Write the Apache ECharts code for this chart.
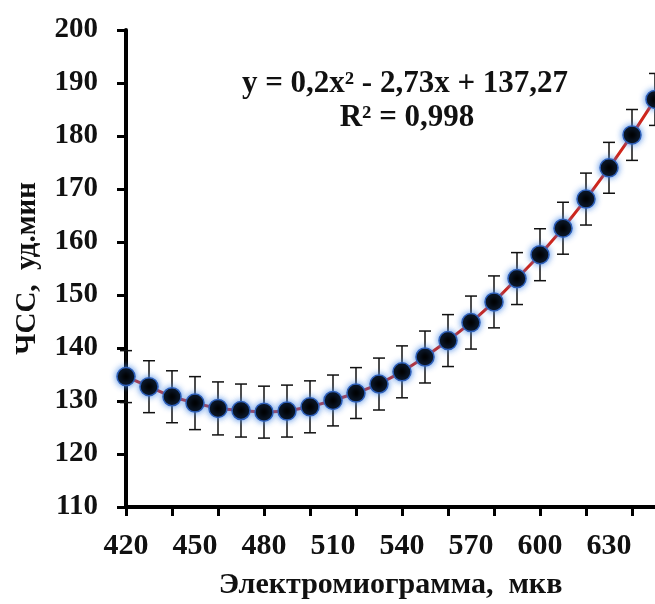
<!DOCTYPE html>
<html>
<head>
<meta charset="utf-8">
<script src="https://cdn.jsdelivr.net/npm/echarts@6/dist/echarts.min.js"></script>
<style>
html, body { margin: 0; padding: 0; background: #fff; }
#chartBox { width: 655px; height: 604px; }
</style>
</head>
<body>
<div id="chartBox"></div>
<script>
// ЭМГ (мкв) по оси X
var emg = [420, 430, 440, 450, 460, 470, 480, 490, 500, 510, 520, 530,
           540, 550, 560, 570, 580, 590, 600, 610, 620, 630, 640, 650];
// ЧСС, уд/мин
var hr = [134.6, 132.7, 130.8, 129.6, 128.6, 128.2, 127.9, 128.1, 128.9, 130.1, 131.5, 133.2,
          135.5, 138.3, 141.4, 144.8, 148.7, 153.1, 157.6, 162.6, 168.1, 174.0, 180.2, 186.9];
// погрешность (+/-)
var hrErr = [4.9, 4.9, 4.9, 5.0, 5.0, 5.0, 4.9, 4.9, 4.9, 4.8, 4.8, 4.9,
             4.9, 4.9, 4.9, 5.0, 4.9, 4.9, 4.9, 4.9, 4.9, 4.8, 4.8, 4.9];
var xTickValues = [420, 440, 460, 480, 500, 520, 540, 560, 580, 600, 620, 640];
var xLabelValues = [420, 450, 480, 510, 540, 570, 600, 630];

var eqText = 'y = 0,2x² - 2,73x + 137,27';
var r2Text = 'R² = 0,998';

var serif = '"Liberation Serif", "Times New Roman", serif';

var points = [];
var bars = [];
for (var i = 0; i < emg.length; i++) {
	points.push([emg[i], hr[i]]);
	bars.push([emg[i], hr[i] - hrErr[i], hr[i] + hrErr[i]]);
}

var chart = echarts.init(document.getElementById('chartBox'));
chart.setOption({
	backgroundColor: '#fff',
	animation: false,
	grid: {
		left: 126,
		right: 0,
		top: 30,
		bottom: 97,
		containLabel: false,
		outerBoundsMode: 'none'
	},
	xAxis: {
		type: 'value',
		min: 420,
		max: 650,
		interval: 10,
		name: 'Электромиограмма,  мкв',
		nameLocation: 'middle',
		nameGap: 63,
		nameTextStyle: { color: '#111', fontFamily: serif, fontWeight: 'bold', fontSize: 30 },
		splitLine: { show: false },
		axisLine: { onZero: false, lineStyle: { color: '#000', width: 4 } },
		axisTick: { customValues: xTickValues, length: 9, lineStyle: { color: '#000', width: 3 } },
		axisLabel: {
			customValues: xLabelValues,
			margin: 24,
			color: '#111',
			fontFamily: serif,
			fontWeight: 'bold',
			fontSize: 30
		}
	},
	yAxis: {
		type: 'value',
		min: 110,
		max: 200,
		interval: 10,
		name: 'ЧСС,  уд.мин',
		nameLocation: 'middle',
		nameGap: 84,
		nameTextStyle: { color: '#111', fontFamily: serif, fontWeight: 'bold', fontSize: 29 },
		splitLine: { show: false },
		axisLine: { show: true, lineStyle: { color: '#000', width: 4 } },
		axisTick: { show: true, length: 9, lineStyle: { color: '#000', width: 3 } },
		axisLabel: {
			margin: 28,
			color: '#111',
			fontFamily: serif,
			fontWeight: 'bold',
			fontSize: 29
		}
	},
	graphic: [
		{
			type: 'text', x: 405, y: 84, z: 10,
			style: { text: eqText, align: 'center', verticalAlign: 'middle',
				fill: '#111', font: 'bold 31px ' + serif }
		},
		{
			type: 'text', x: 407, y: 118, z: 10,
			style: { text: r2Text, align: 'center', verticalAlign: 'middle',
				fill: '#111', font: 'bold 31px ' + serif }
		}
	],
	series: [
		{
			type: 'custom',
			z: 1,
			data: bars,
			renderItem: function (params, api) {
				var lo = api.coord([api.value(0), api.value(1)]);
				var hi = api.coord([api.value(0), api.value(2)]);
				var w = 6;
				var st = { stroke: '#111', lineWidth: 1.5, fill: null };
				return {
					type: 'group',
					children: [
						{ type: 'line', shape: { x1: lo[0], y1: lo[1], x2: hi[0], y2: hi[1] }, style: st },
						{ type: 'line', shape: { x1: lo[0] - w, y1: lo[1], x2: lo[0] + w, y2: lo[1] }, style: st },
						{ type: 'line', shape: { x1: hi[0] - w, y1: hi[1], x2: hi[0] + w, y2: hi[1] }, style: st }
					]
				};
			}
		},
		{
			type: 'line',
			z: 3,
			data: points,
			symbol: 'circle',
			symbolSize: 18,
			lineStyle: { color: '#d0261b', width: 3 },
			itemStyle: {
				color: '#000',
				borderColor: '#2e5fb8',
				borderWidth: 1.5,
				shadowBlur: 6,
				shadowColor: 'rgba(60,130,230,0.9)'
			}
		}
	]
});
</script>
</body>
</html>
